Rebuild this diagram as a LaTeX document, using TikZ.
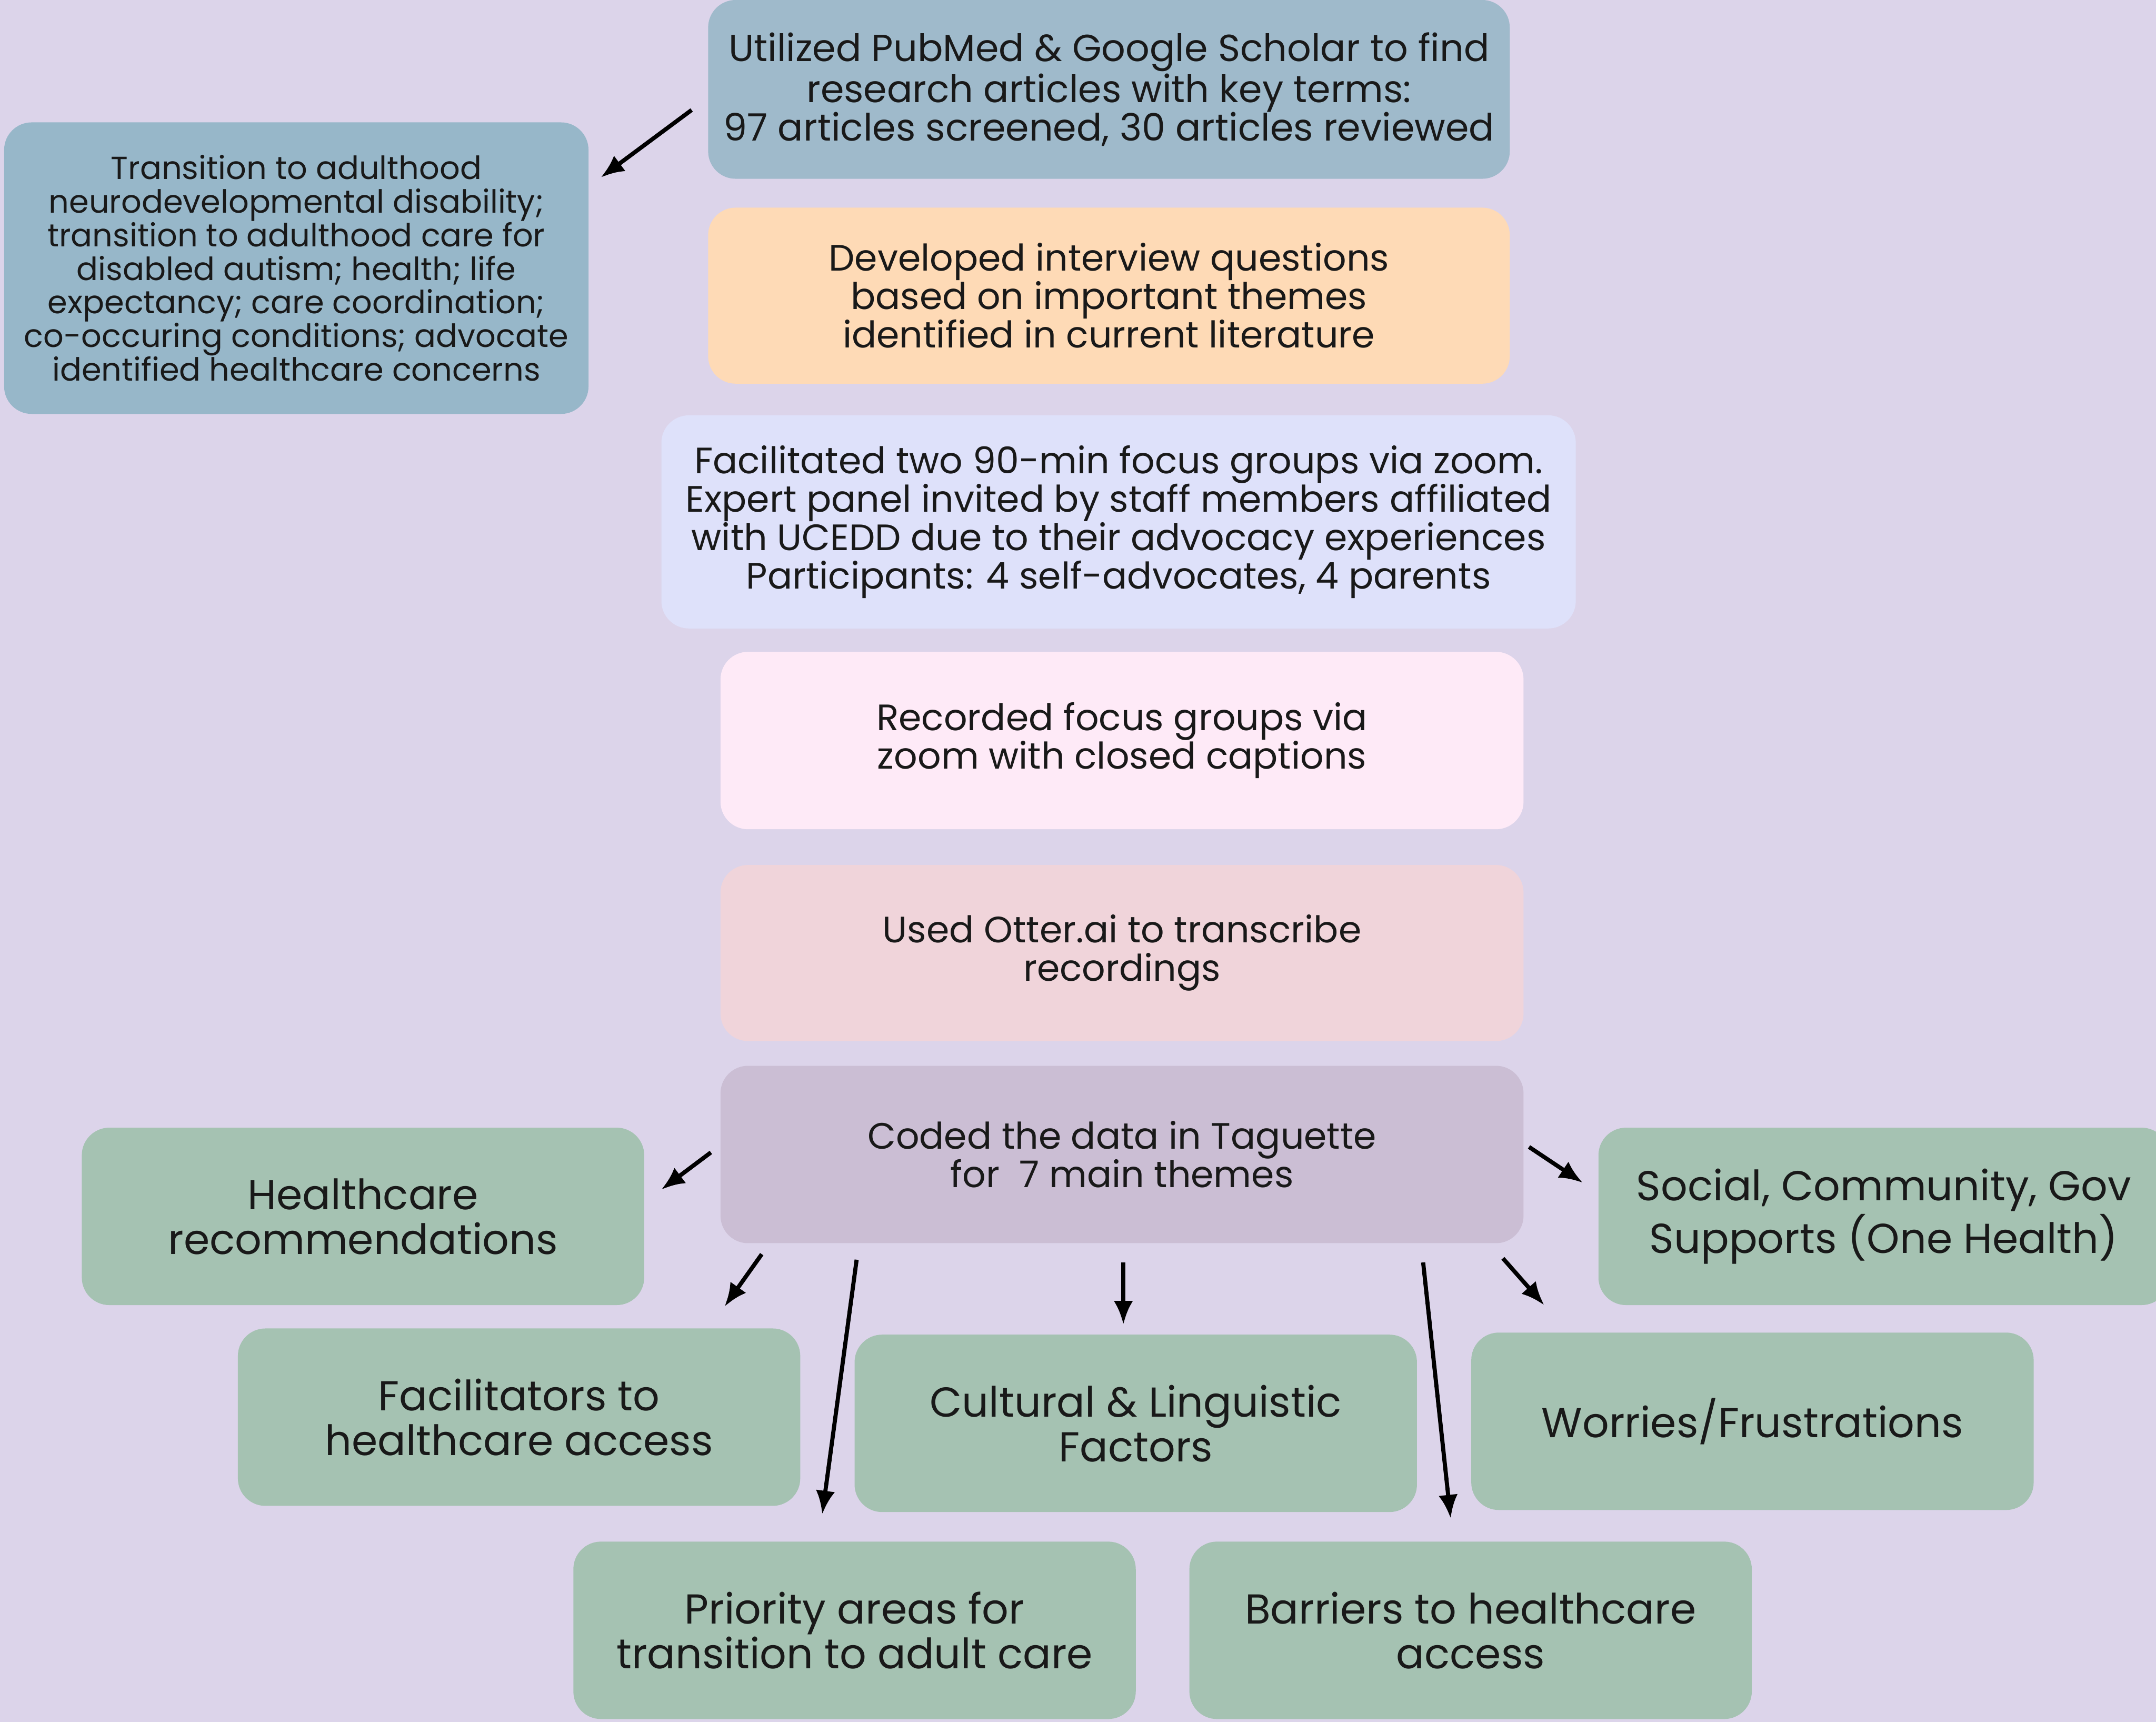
\documentclass[tikz,border=0pt]{standalone}
\usepackage{fontspec}
\setmainfont{Poppins}
\usetikzlibrary{arrows.meta}

\definecolor{bgcol}{RGB}{220,212,234}
\definecolor{bluecol}{RGB}{159,186,203}
\definecolor{termcol}{RGB}{151,183,201}
\definecolor{peachcol}{RGB}{254,218,182}
\definecolor{lavcol}{RGB}{222,225,250}
\definecolor{pinkcol}{RGB}{254,234,247}
\definecolor{rosecol}{RGB}{240,212,218}
\definecolor{mauvecol}{RGB}{203,190,212}
\definecolor{greencol}{RGB}{165,194,178}

\begin{document}
\begin{tikzpicture}[
    box/.style={rounded corners=0.4cm, align=center, inner sep=0pt, text=black!90},
    mid/.style={box, minimum width=11.66cm, minimum height=2.58cm,
        font=\fontsize{15.2}{15.9}\selectfont},
    theme/.style={box, fill=greencol, minimum width=8.18cm, minimum height=2.58cm,
        font=\fontsize{17.3}{18.5}\selectfont},
    arr/.style={-{Latex[length=0.34cm,width=0.28cm]}, line width=0.06cm}
]
    \fill[bgcol] (0,0) rectangle (31.36,-25.04);
    \useasboundingbox (0,0) rectangle (31.36,-25.04);

%   literature search
    \node[mid, fill=bluecol, minimum height=2.6cm, font=\fontsize{15.6}{15.9}\selectfont] (pubmed) at (16.13,-1.30)
        {Utilized PubMed \& Google Scholar to find\\research articles with key terms:\\97 articles screened, 30 articles reviewed};
    \node[box, fill=termcol, minimum width=8.5cm, minimum height=4.24cm,
        font=\fontsize{13.2}{13.9}\selectfont] (terms) at (4.31,-3.90)
        {Transition to adulthood\\neurodevelopmental disability;\\transition to adulthood care for\\disabled autism; health; life\\expectancy; care coordination;\\co-occuring conditions; advocate\\identified healthcare concerns};

%   steps
    \node[mid, fill=peachcol, minimum height=2.56cm] (develop) at (16.13,-4.30)
        {Developed interview questions\\based on important themes\\identified in current literature};
    \node[mid, fill=lavcol, minimum width=13.3cm, minimum height=3.1cm] (focus) at (16.27,-7.59)
        {Facilitated two 90-min focus groups via zoom.\\Expert panel invited by staff members affiliated\\with UCEDD due to their advocacy experiences\\Participants: 4 self-advocates, 4 parents};
    \node[mid, fill=pinkcol, minimum width=11.68cm] (record) at (16.32,-10.77)
        {Recorded focus groups via\\zoom with closed captions};
    \node[mid, fill=rosecol, minimum width=11.68cm, minimum height=2.56cm] (otter) at (16.32,-13.86)
        {Used Otter.ai to transcribe\\recordings};
    \node[mid, fill=mauvecol, minimum width=11.68cm] (coded) at (16.32,-16.79)
        {Coded the data in Taguette\\for\ \ 7 main themes};

%   themes
    \node[theme] (recom) at (5.28,-17.69) {Healthcare\\recommendations};
    \node[theme, minimum width=8.3cm] (social) at (27.40,-17.69) {Social, Community, Gov\\Supports (One Health)};
    \node[theme] (facil) at (7.55,-20.61) {Facilitators to\\healthcare access};
    \node[theme] (culture) at (16.52,-20.70) {Cultural \& Linguistic\\Factors};
    \node[theme] (worry) at (25.49,-20.67) {Worries/Frustrations};
    \node[theme] (prior) at (12.43,-23.71) {Priority areas for\\transition to adult care};
    \node[theme] (barrier) at (21.39,-23.71) {Barriers to healthcare\\access};

%   arrow ends
    \coordinate (p1) at (10.06,-1.60);  \coordinate (q1) at (8.74,-2.58);
    \coordinate (p2) at (10.34,-16.76); \coordinate (q2) at (9.62,-17.30);
    \coordinate (p3) at (22.24,-16.68); \coordinate (q3) at (23.02,-17.20);
    \coordinate (p4) at (11.08,-18.24); \coordinate (q4) at (10.54,-19.00);
    \coordinate (p5) at (12.46,-18.32); \coordinate (q5) at (11.96,-22.02);
    \coordinate (p6) at (16.34,-18.36); \coordinate (q6) at (16.34,-19.26);
    \coordinate (p7) at (20.70,-18.36); \coordinate (q7) at (21.10,-22.08);
    \coordinate (p8) at (21.86,-18.30); \coordinate (q8) at (22.46,-18.98);

    \foreach \i in {1,...,8}
        \draw[arr] (p\i) -- (q\i);
\end{tikzpicture}
\end{document}
